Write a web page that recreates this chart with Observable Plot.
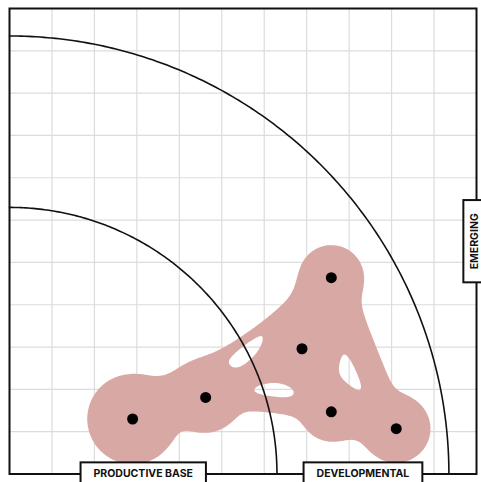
<!DOCTYPE html>
<html>
<head>
<meta charset="utf-8">
<script src="https://cdn.jsdelivr.net/npm/d3@7"></script>
<script src="https://cdn.jsdelivr.net/npm/@observablehq/plot@0.6"></script>
<style>
  html, body { margin: 0; padding: 0; background: #fff; }
  #chart { width: 481px; height: 482px; overflow: hidden; }
  svg { display: block; }
</style>
</head>
<body>
<div id="chart"></div>
<script>
// ---- data ----
const pointX = [2.90, 4.62, 6.89, 7.58, 7.58, 9.11];
const pointY = [1.30, 1.81, 2.96, 4.64, 1.47, 1.07];
const pointSpread = [1.05, 0.82, 0.70, 0.66, 0.64, 0.79];
const linkSource = [0, 0, 2, 1, 2, 2, 3, 4];
const linkTarget = [1, 3, 1, 4, 3, 4, 5, 5];
const linkSpreadFrom = [0.40, 0.72, 0.75, 0.18, 0.64, 0.44, 0.38, 0.40];
const linkSpreadTo   = [0.40, 0.07, 0.12, 0.18, 0.64, 0.44, 0.27, 0.40];
const linkTaper      = [1, 4, 2, 1, 1, 1, 1, 1];
const ringRadii = [6.3, 10.35];
const gridTicks = [1, 2, 3, 4, 5, 6, 7, 8, 9, 10];
const labelText = ["PRODUCTIVE BASE", "DEVELOPMENTAL", "EMERGING"];

const domainMax = 11;
const softness = 0.15;

const points = pointX.map((x, i) => ({x, y: pointY[i]}));

function field(x, y) {
  let v = 0;
  for (let i = 0; i < pointX.length; i++) {
    const d = Math.hypot(x - pointX[i], y - pointY[i]);
    v += Math.exp((pointSpread[i] - d) / softness);
  }
  for (let j = 0; j < linkSource.length; j++) {
    const a = linkSource[j], b = linkTarget[j];
    const ax = pointX[a], ay = pointY[a];
    const dx = pointX[b] - ax, dy = pointY[b] - ay;
    let t = ((x - ax) * dx + (y - ay) * dy) / (dx * dx + dy * dy);
    t = Math.max(0, Math.min(1, t));
    const d = Math.hypot(x - ax - t * dx, y - ay - t * dy);
    const h = linkSpreadTo[j] + (linkSpreadFrom[j] - linkSpreadTo[j]) * Math.pow(1 - t, linkTaper[j]);
    v += Math.exp((h - d) / softness);
  }
  return v;
}

const arcs = ringRadii.flatMap((r, k) =>
  d3.range(0, 181).map(i => {
    const a = (i / 180) * Math.PI / 2;
    return {ring: k, x: r * Math.cos(a), y: r * Math.sin(a)};
  })
);

const labels = [
  {text: labelText[0], x: ringRadii[0] / 2, y: 0, rotate: 0},
  {text: labelText[1], x: (ringRadii[0] + ringRadii[1]) / 2, y: 0, rotate: 0},
  {text: labelText[2], x: domainMax, y: domainMax / 2, rotate: -90}
];

const chart = Plot.plot({
  width: 481,
  height: 482,
  marginLeft: 9,
  marginRight: 5,
  marginTop: 8,
  marginBottom: 8.5,
  x: {domain: [0, domainMax], axis: null},
  y: {domain: [0, domainMax], axis: null},
  style: {fontFamily: "Inter, sans-serif", background: "#fff"},
  marks: [
    Plot.ruleX(gridTicks, {stroke: "#dcdcdc", strokeOpacity: 1, strokeWidth: 1.2}),
    Plot.ruleY(gridTicks, {stroke: "#dcdcdc", strokeOpacity: 1, strokeWidth: 1.2}),
    Plot.contour({
      x1: 0, y1: 0, x2: domainMax, y2: domainMax,
      value: field,
      thresholds: [1],
      fill: "#d8a8a4",
      stroke: "none"
    }),
    Plot.line(arcs, {x: "x", y: "y", z: "ring", stroke: "#111", strokeWidth: 1.6}),
    Plot.dot(points, {x: "x", y: "y", r: 5.5, fill: "#000", stroke: "none"}),
    Plot.frame({stroke: "#111", strokeWidth: 2}),
    Plot.text(labels.filter(d => d.rotate === 0), {
      x: "x", y: "y", text: "text", fontSize: 10.5, fontWeight: 700, fill: "#111"
    }),
    Plot.text(labels.filter(d => d.rotate !== 0), {
      x: "x", y: "y", text: "text", rotate: -90, dx: -1.5, fontSize: 10.5, fontWeight: 700, fill: "#111"
    })
  ]
});

document.getElementById("chart").appendChild(chart);

// boxes behind the labels
chart.querySelectorAll("text").forEach(t => {
  if (!labelText.includes(t.textContent)) return;
  const bb = t.getBBox();
  const padX = 13;
  const halfH = 11.5;
  const cy = bb.y + bb.height / 2;
  const rect = document.createElementNS("http://www.w3.org/2000/svg", "rect");
  rect.setAttribute("x", bb.x - padX);
  rect.setAttribute("y", cy - halfH);
  rect.setAttribute("width", bb.width + 2 * padX);
  rect.setAttribute("height", 2 * halfH);
  rect.setAttribute("fill", "#fff");
  rect.setAttribute("stroke", "#111");
  rect.setAttribute("stroke-width", 2);
  const tr = t.getAttribute("transform");
  if (tr) rect.setAttribute("transform", tr);
  t.parentNode.insertBefore(rect, t);
});
</script>
</body>
</html>
